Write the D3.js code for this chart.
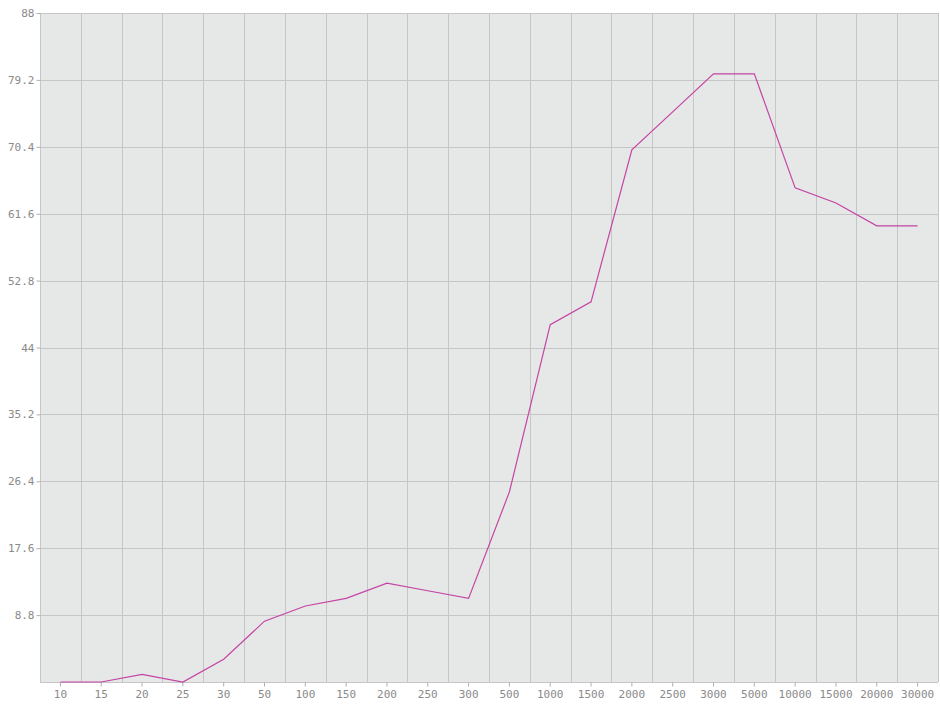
<!DOCTYPE html>
<html><head><meta charset="utf-8">
<script src="https://cdn.jsdelivr.net/npm/d3@7"></script>
<style>
html,body{margin:0;padding:0;background:#fff;}
svg{display:block;}
.tick text{font-family:"DejaVu Sans Mono",monospace;font-size:11px;fill:#8a8a8a;}
</style></head>
<body><svg id="c" width="940" height="705"></svg>
<script>
const categories = ["10","15","20","25","30","50","100","150","200","250","300","500","1000","1500","2000","2500","3000","5000","10000","15000","20000","30000"];
const values = [0,0,1,0,3,8,10,11,13,12,11,25,47,50,70,75,80,80,65,63,60,60];
const yTicks = [0,8.8,17.6,26.4,35.2,44,52.8,61.6,70.4,79.2,88];
const yTickLabels = ["","8.8","17.6","26.4","35.2","44","52.8","61.6","70.4","79.2","88"];

const svg = d3.select("#c");
const m = {l:40, r:2, t:13, b:23};
const W = 940, H = 705;
const x = d3.scaleBand().domain(categories).range([m.l, W - m.r]).padding(0);
const y = d3.scaleLinear().domain([0, 88]).range([H - m.b, m.t]);

svg.append("rect").attr("x", m.l).attr("y", m.t)
  .attr("width", W - m.r - m.l).attr("height", H - m.b - m.t)
  .attr("fill", "#e6e7e7");

const g = svg.append("g");
// vertical grid at band edges
const edges = categories.map(c => x(c)).concat([x(categories[categories.length-1]) + x.bandwidth()]);
g.selectAll("line.vg").data(edges).enter().append("line")
  .attr("x1", d => Math.round(d) + 0.5).attr("x2", d => Math.round(d) + 0.5)
  .attr("y1", m.t).attr("y2", H - m.b)
  .attr("stroke", "#c6c6c6").attr("stroke-width", 1);
// horizontal grid
g.selectAll("line.hg").data(yTicks).enter().append("line")
  .attr("x1", m.l).attr("x2", W - m.r)
  .attr("y1", d => Math.round(y(d)) + 0.5).attr("y2", d => Math.round(y(d)) + 0.5)
  .attr("stroke", "#c6c6c6").attr("stroke-width", 1);

// axes
const xAxis = d3.axisBottom(x).tickSize(4).tickPadding(4);
const xg = svg.append("g").attr("transform", `translate(0,${H - m.b + 0.5})`).call(xAxis);
xg.select(".domain").remove();
xg.selectAll(".tick line").attr("stroke", "#b0b0b0");

const yAxis = d3.axisLeft(y).tickValues(yTicks).tickSize(4).tickPadding(2)
  .tickFormat((d,i) => yTickLabels[i]);
const yg = svg.append("g").attr("transform", `translate(${m.l + 0.5},0)`).call(yAxis);
yg.select(".domain").remove();
yg.selectAll(".tick line").attr("stroke", "#b0b0b0");
yg.selectAll(".tick").filter(d => d === 0).select("line").remove();

// line
const line = d3.line().x((d,i) => x(categories[i]) + x.bandwidth()/2).y(d => y(d));
svg.append("path").datum(values).attr("d", line)
  .attr("fill", "none").attr("stroke", "#c444a4").attr("stroke-width", 1.2);
</script></body></html>
